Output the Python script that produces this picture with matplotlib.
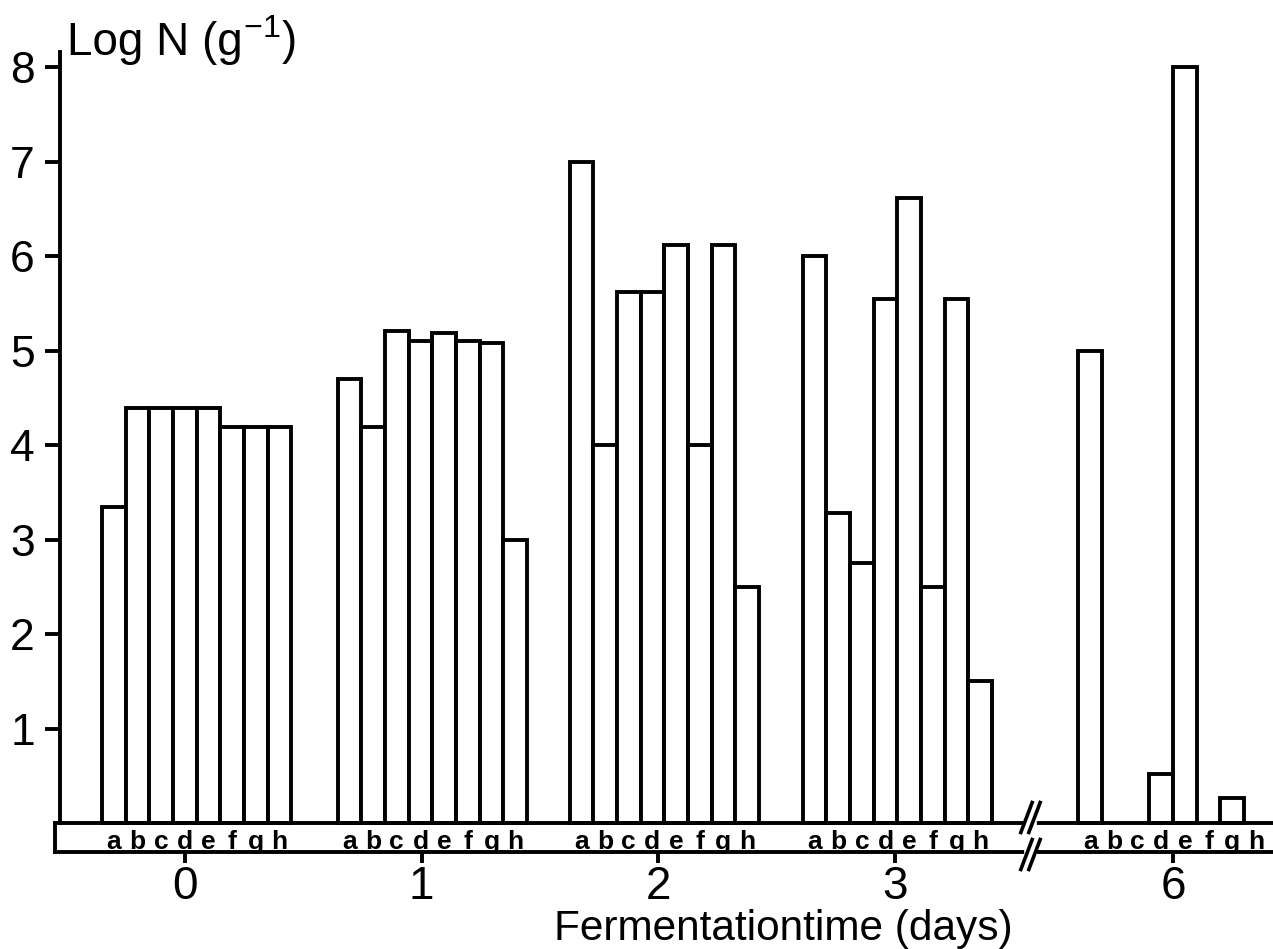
import matplotlib
matplotlib.use('Agg')
import matplotlib.pyplot as plt
from matplotlib.path import Path

plt.rcParams['font.family'] = 'Liberation Sans'
plt.rcParams['mathtext.fontset'] = 'custom'
plt.rcParams['mathtext.rm'] = 'Liberation Sans'
plt.rcParams['mathtext.default'] = 'regular'

# fermentation days and isolates a-h
days = ['0', '1', '2', '3', '6']
isolates = ['a', 'b', 'c', 'd', 'e', 'f', 'g', 'h']

# Log N (g-1) per isolate, one list per day
day0 = [3.34, 4.39, 4.39, 4.39, 4.39, 4.19, 4.19, 4.19]
day1 = [4.70, 4.19, 5.21, 5.10, 5.19, 5.10, 5.08, 2.99]
day2 = [7.00, 4.00, 5.62, 5.62, 6.12, 4.00, 6.12, 2.50]
day3 = [6.00, 3.28, 2.75, 5.55, 6.62, 2.50, 5.55, 1.50]
day6 = [5.00, 0.00, 0.00, 0.52, 8.00, 0.00, 0.26, 0.00]
log_counts = [day0, day1, day2, day3, day6]

# layout (axis units)
tick_pos = [0, 1, 2, 3, 4.175]
group_pos = [0.05, 1.045, 2.025, 3.01, 4.175]
bar_w = 0.1
break_x = 3.57
lw = 2.8
strip = -0.307

fig = plt.figure(figsize=(12.73, 9.49), dpi=100)
ax = fig.add_axes([60 / 1273, 97 / 949, 1 - 60 / 1273, 800 / 949])
ax.set_xlim(-0.528, 4.597)
ax.set_ylim(strip, 8.16)

for center, values in zip(group_pos, log_counts):
    for i, (letter, v) in enumerate(zip(isolates, values)):
        x = center + (i - 3.5) * bar_w
        if v > 0:
            ax.bar(x, v, width=bar_w, bottom=0, facecolor='white',
                   edgecolor='black', linewidth=lw, zorder=2)
        ax.text(x, -0.275, letter, ha='center', va='baseline',
                fontsize=19, fontweight='bold')

# baseline, label strip and axis break
for y in (0, strip):
    ax.plot([-0.55, 4.6], [y, y], color='black', lw=lw, clip_on=False, zorder=3)
ax.plot([-0.55, -0.55], [strip, 0], color='black', lw=lw, clip_on=False, zorder=3)

slash = Path([(-0.38, -1), (0.38, 1)], [Path.MOVETO, Path.LINETO])
for y, dy in ((0, 0.06), (strip, -0.02)):
    ax.plot([break_x - 0.014, break_x + 0.014], [y, y], color='white', lw=lw + 2,
            clip_on=False, zorder=4)
    ax.plot([break_x - 0.017, break_x + 0.017], [y + dy, y + dy], ls='none',
            marker=slash, markersize=24, markeredgewidth=2.6, color='black',
            clip_on=False, zorder=5)

for side in ('top', 'right', 'bottom'):
    ax.spines[side].set_visible(False)
ax.spines['left'].set_linewidth(lw)
ax.spines['left'].set_bounds(0, 8.16)

ax.set_yticks(range(1, 9))
ax.tick_params(axis='y', length=11, width=lw, labelsize=32, pad=7)
ax.set_xticks(tick_pos, days)
ax.tick_params(axis='x', length=8, width=lw, labelsize=33, pad=1.5)

fig.text(67 / 1273, 1 - 55 / 949, 'Log N (g', fontsize=33,
         ha='left', va='baseline')
fig.text(243 / 1273, 1 - 55 / 949, '$^{-1}$)', fontsize=33,
         ha='left', va='baseline')
fig.text(783 / 1273, 1 - 940 / 949, 'Fermentationtime (days)', fontsize=30.5,
         ha='center', va='baseline')

fig.savefig('out.png', dpi=100)
